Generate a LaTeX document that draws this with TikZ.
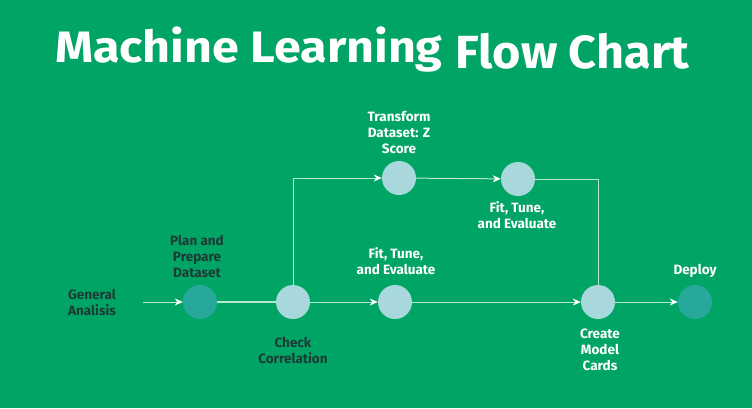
\documentclass[tikz,border=0pt]{standalone}
\usepackage{fontspec}
\setmainfont{Fira Sans}
\usetikzlibrary{arrows.meta}
\definecolor{bg}{HTML}{00A566}
\definecolor{darkc}{HTML}{26A99A}
\definecolor{lightc}{HTML}{A8D8DB}
\definecolor{linec}{HTML}{B4E9D2}
\definecolor{darktext}{HTML}{1D3B33}
\tikzset{
  dot/.style={circle, minimum size=34pt, inner sep=0pt, draw=none},
  darkdot/.style={dot, fill=darkc},
  lightdot/.style={dot, fill=lightc},
  lbl/.style={align=center, font=\fontsize{13.5}{16}\selectfont\bfseries, inner sep=0pt},
  wlbl/.style={lbl, text=white},
  dlbl/.style={lbl, text=darktext},
  ttl/.style={anchor=base west, text=white, inner sep=0pt},
  conn/.style={draw=linec, line width=1pt},
  arr/.style={conn, -{Stealth[length=8pt,width=7pt,inset=2.5pt,color=white]}}
}
\begin{document}
\begin{tikzpicture}[x=1pt,y=-1pt]
\fill[bg] (0,0) rectangle (752,408);
\useasboundingbox (0,0) rectangle (752,408);
% title
\node[ttl, font=\fontsize{44}{48}\selectfont\bfseries] (t1) at (55,62) {\scalebox{1.1}[1]{Machine Learning}};
\node[ttl, font=\fontsize{46.5}{50}\selectfont\bfseries] (t2) at (455,68) {\scalebox{1.045}[1]{Flow Chart}};
% circles
\node[darkdot] (plan) at (200,302) {};
\node[lightdot] (check) at (293,302) {};
\node[lightdot] (fit1) at (395,302) {};
\node[lightdot] (create) at (598,302) {};
\node[darkdot] (deploy) at (695,302) {};
\node[lightdot] (trans) at (399,178) {};
\node[lightdot] (fit2) at (518,179) {};
\coordinate (start) at (143,302);
% labels
\node[dlbl] (lga) at (92,302) {General\\Analisis};
\node[dlbl] (lplan) at (197,256) {Plan and\\Prepare\\Dataset};
\node[dlbl] (lcheck) at (293,350) {Check\\Correlation};
\node[wlbl] (lfit1) at (396,261) {Fit, Tune,\\and Evaluate};
\node[wlbl] (lcreate) at (600,350) {Create\\Model\\Cards};
\node[wlbl] (ldeploy) at (695,271) {Deploy};
\node[wlbl] (ltrans) at (399,132) {Transform\\Dataset: Z\\Score};
\node[wlbl] (lfit2) at (517,215) {Fit, Tune,\\and Evaluate};
% connectors
\draw[arr] (start) -- (plan);
\draw[conn, line width=1.6pt] (plan) -- (check);
\draw[arr] (check) -- (fit1);
\draw[arr] (fit1) -- (create);
\draw[arr] (create) -- (deploy);
\draw[arr] (check.north) |- (trans.west);
\draw[arr] (trans) -- (fit2);
\draw[conn] (fit2.east) -| (create.north);
\end{tikzpicture}
\end{document}
